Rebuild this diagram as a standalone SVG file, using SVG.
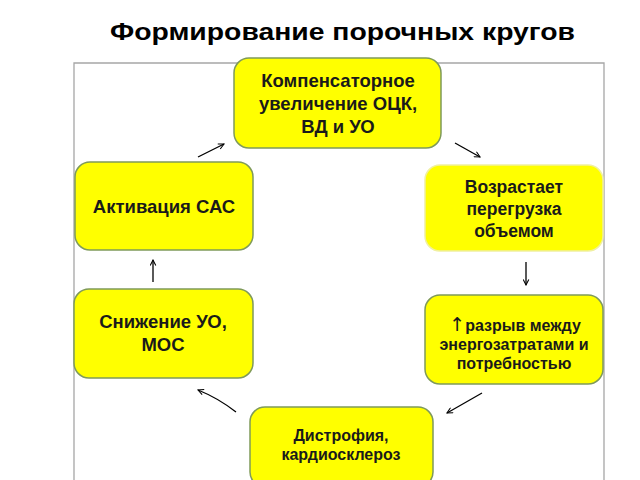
<svg xmlns="http://www.w3.org/2000/svg" width="640" height="480" viewBox="0 0 640 480">
<defs>
<style>
.frame{fill:none;stroke:#a6a6a6;stroke-width:1.3}
.box{fill:#ffff00;stroke:#7f9a5a;stroke-width:1.5}
.t{font-family:"Liberation Sans",Arial,sans-serif;font-weight:bold;fill:#1a1a1a;text-anchor:middle}
.title{font-family:"Liberation Sans",Arial,sans-serif;font-weight:bold;font-size:23px;fill:#000}
.c{fill:none;stroke:#000;stroke-width:1.3;marker-end:url(#ah)}
.up{font-family:"DejaVu Sans",sans-serif;font-weight:normal;font-size:19px}
</style>
<marker id="ah" viewBox="0 0 10 10" refX="9" refY="5" markerWidth="7" markerHeight="7" orient="auto" markerUnits="userSpaceOnUse">
<path d="M1,1 L9,5 L1,9" fill="none" stroke="#000" stroke-width="1.5"/>
</marker>
</defs>
<rect width="640" height="480" fill="#fff"/>
<text class="title" x="110" y="40" textLength="465" lengthAdjust="spacingAndGlyphs">Формирование порочных кругов</text>
<path class="frame" d="M74,490 L74,63 L604,63 L604,490"/>
<g id="connectors">
<path class="c" d="M198,157 L224,144"/>
<path class="c" d="M455,143 L480,157"/>
<path class="c" d="M526,262 L526,285"/>
<path class="c" d="M482,393 L447,413"/>
<path class="c" d="M236,412 Q218,398 198,390"/>
<path class="c" d="M153,282 L153,260"/>
</g>
<g id="n1">
<rect class="box" x="234" y="58" width="207" height="90" rx="15"/>
<text class="t" font-size="18.5"><tspan x="338" y="87">Компенсаторное</tspan><tspan x="338" y="110">увеличение ОЦК,</tspan><tspan x="338" y="133">ВД и УО</tspan></text>
</g>
<g id="n2">
<rect x="425" y="165" width="178" height="86" rx="15" fill="#ffff00" stroke="#f0f0a0" stroke-width="1.5"/>
<text class="t" font-size="17.5"><tspan x="514" y="193">Возрастает</tspan><tspan x="514" y="215">перегрузка</tspan><tspan x="514" y="237">объемом</tspan></text>
</g>
<g id="n3">
<rect class="box" x="425" y="295" width="178" height="89" rx="15"/>
<text class="t" font-size="16"><tspan x="515" y="331"><tspan class="up">↑</tspan>разрыв между</tspan><tspan x="514" y="350">энергозатратами и</tspan><tspan x="514" y="369">потребностью</tspan></text>
</g>
<g id="n4">
<rect class="box" x="250" y="407" width="183" height="80" rx="15"/>
<text class="t" font-size="16"><tspan x="341" y="441">Дистрофия,</tspan><tspan x="341" y="460">кардиосклероз</tspan></text>
</g>
<g id="n5">
<rect class="box" x="74" y="289" width="179" height="89" rx="15"/>
<text class="t" font-size="18.5"><tspan x="163" y="328">Снижение УО,</tspan><tspan x="163" y="351">МОС</tspan></text>
</g>
<g id="n6">
<rect class="box" x="75" y="162" width="178" height="88" rx="15"/>
<text class="t" font-size="18.5"><tspan x="164" y="213">Активация САС</tspan></text>
</g>
</svg>
